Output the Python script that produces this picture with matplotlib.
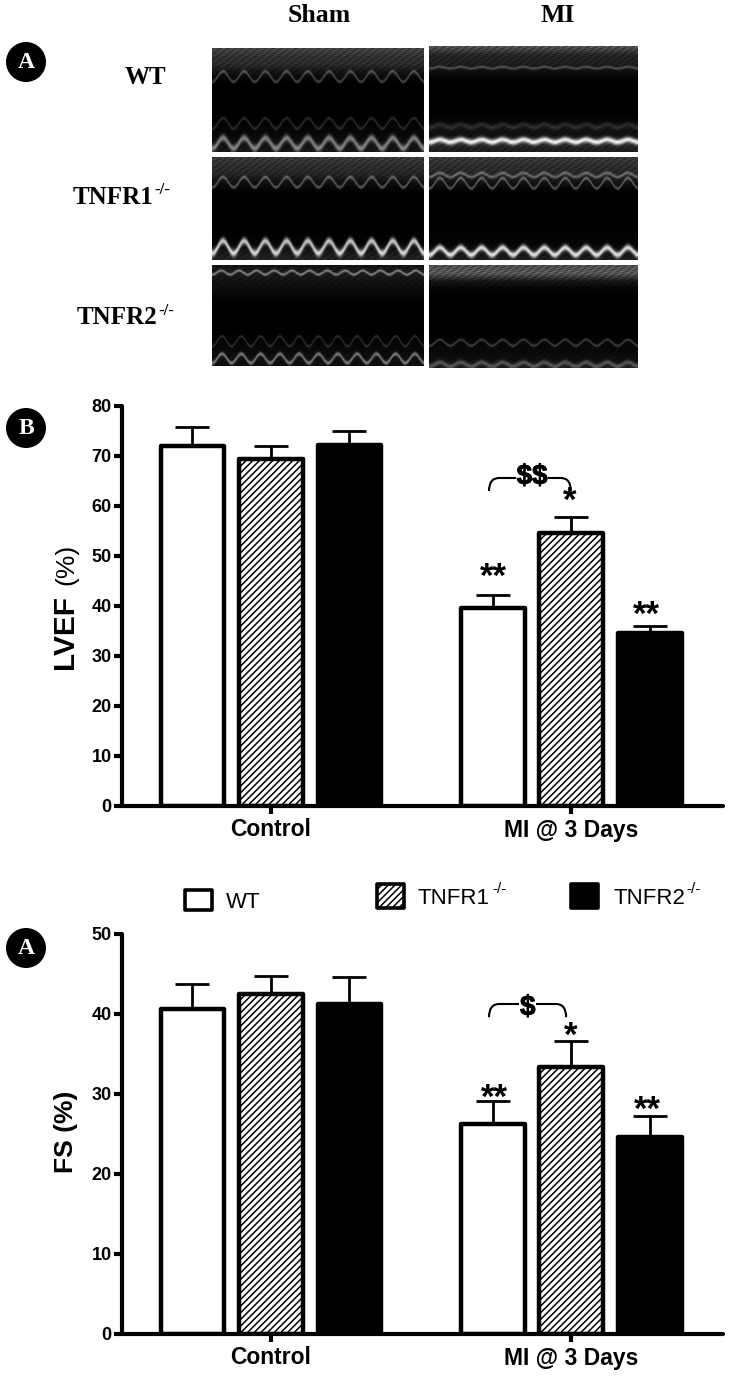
import numpy as np
import matplotlib
matplotlib.use('Agg')
import matplotlib.pyplot as plt
import matplotlib.patheffects as pe
from matplotlib.patches import Ellipse, PathPatch
from matplotlib.path import Path

W, H = 730, 1376

groups = ['Control', 'MI @ 3 Days']
strains = ['WT', 'TNFR1', 'TNFR2']

lvef = [72.0, 69.5, 72.3, 39.7, 54.6, 34.6]
lvef_err = [3.8, 2.5, 2.7, 2.45, 3.3, 1.5]
fs = [40.6, 42.5, 41.2, 26.25, 33.4, 24.65]
fs_err = [3.1, 2.3, 3.4, 2.85, 3.25, 2.6]

# bar slots, 1 = one bar pitch
bar_x = [0, 1, 2, 3.83, 4.82, 5.83]
group_x = [1, 4.82]

# echo strips: brightness from top to bottom, then wall traces (cycles, centre, amplitude, grey, blur)
echo_profile = {
    ('WT', 'Sham'): [.34, .26, .22, .1, .02, 0, 0, 0, 0, .01, .03, .05, .08, .12],
    ('WT', 'MI'): [.42, .2, .16, .08, .01, 0, 0, 0, 0, .02, .08, .08, .2, .15],
    ('TNFR1', 'Sham'): [.3, .24, .2, .1, .03, 0, 0, 0, 0, 0, .01, .03, .12, .18],
    ('TNFR1', 'MI'): [.3, .24, .2, .12, .03, 0, 0, 0, 0, .01, .02, .03, .08, .15],
    ('TNFR2', 'Sham'): [.1, .14, .1, .07, .03, 0, 0, 0, 0, .01, .03, .05, .08, .08],
    ('TNFR2', 'MI'): [.4, .45, .12, .03, 0, 0, 0, 0, 0, .01, .04, .05, .08, .14],
}
echo_traces = {
    ('WT', 'Sham'): [(10, .27, .05, .25, 1.2), (10, .72, .05, .15, 1.2), (10, .91, .05, .45, 2.4)],
    ('WT', 'MI'): [(10, .20, .008, .22, 1.0), (10, .75, .015, .12, 1.8), (10, .89, .012, .8, 2.0)],
    ('TNFR1', 'Sham'): [(10, .24, .05, .3, 1.2), (10, .87, .06, .75, 2.4)],
    ('TNFR1', 'MI'): [(10, .17, .02, .28, 1.2), (10, .25, .05, .3, 1.1), (10, .91, .035, .8, 2.2)],
    ('TNFR2', 'Sham'): [(12, .07, .02, .4, 1.0), (11, .75, .05, .16, 1.0), (11, .92, .045, .42, 1.4)],
    ('TNFR2', 'MI'): [(10, .75, .03, .2, 1.0), (10, .96, .02, .25, 1.7)],
}
echo_box = {
    ('WT', 'Sham'): (212, 423, 48, 152), ('WT', 'MI'): (429, 638, 46, 152),
    ('TNFR1', 'Sham'): (212, 423, 157, 260), ('TNFR1', 'MI'): (429, 638, 157, 260),
    ('TNFR2', 'Sham'): (212, 423, 265, 366), ('TNFR2', 'MI'): (429, 638, 265, 368),
}

plt.rcParams['font.family'] = ['Liberation Sans', 'DejaVu Sans']
plt.rcParams['hatch.linewidth'] = 1.1

fig = plt.figure(figsize=(W / 100, H / 100), dpi=100)


def px_axes(x0, x1, y0, y1):
    return fig.add_axes([x0 / W, 1 - y1 / H, (x1 - x0) / W, (y1 - y0) / H])


def draw_echo(key):
    x0, x1, y0, y1 = echo_box[key]
    ax = px_axes(x0, x1, y0, y1)
    w, h = x1 - x0, y1 - y0
    xx, yy = np.meshgrid(np.arange(w), np.arange(h))
    prof = np.array(echo_profile[key])
    img = np.interp(yy / (h - 1), np.linspace(0, 1, len(prof)), prof)
    # streaky look of the scan, only a stand-in for the photo
    img = img * (0.75 + 0.25 * np.sin(xx * 0.7 + yy * 1.9) * np.sin(xx * 0.13 - yy * 0.8))
    for cycles, centre, amp, grey, blur in echo_traces[key]:
        line = h * (centre + amp * np.cos(2 * np.pi * cycles * xx / w))
        img = img + grey * np.exp(-(yy - line) ** 2 / (2 * blur ** 2))
    ax.imshow(np.clip(img, 0, 1), cmap='gray', vmin=0, vmax=1, aspect='auto')
    ax.axis('off')


def draw_bars(ax, vals, errs, ymax, step):
    for i, (x, v, e) in enumerate(zip(bar_x, vals, errs)):
        kind = i % 3
        face = ['white', 'white', 'black'][kind]
        ax.bar(x, v, width=0.81, facecolor=face, edgecolor='black', linewidth=3.2,
               hatch='/////' if kind == 1 else None, joinstyle='round', zorder=2)
        ax.errorbar(x, v, yerr=[[0], [e]], color='black', elinewidth=2.0, capsize=12,
                    capthick=2.0, zorder=1)
    ax.set_xlim(-0.898, 6.758)
    ax.set_ylim(0, ymax)
    ax.set_yticks(np.arange(0, ymax + 1, step))
    ax.set_xticks(group_x)
    ax.set_xticklabels(groups, fontsize=16.5, fontweight='bold')
    ax.tick_params(axis='y', width=3, length=5.5, labelsize=13, pad=2)
    ax.tick_params(axis='x', width=3, length=5.5, pad=3.5)
    for lab in ax.get_yticklabels():
        lab.set_fontweight('bold')
    for s in ['top', 'right']:
        ax.spines[s].set_visible(False)
    for s in ['left', 'bottom']:
        ax.spines[s].set_linewidth(3)
        ax.spines[s].set_capstyle('round')
    ax.patch.set_alpha(0)


def bracket(ax, x0, x1, y0, y1, dx):
    verts = [(x0, y0), (x0, y1), (x0 + dx, y1), (x1 - dx, y1), (x1, y1), (x1, y0)]
    codes = [Path.MOVETO, Path.CURVE3, Path.CURVE3, Path.LINETO, Path.CURVE3, Path.CURVE3]
    ax.add_patch(PathPatch(Path(verts, codes), fc='none', ec='black', lw=1.5, zorder=3))


for key in echo_box:
    draw_echo(key)

ax1 = px_axes(122, 723, 406, 806)
draw_bars(ax1, lvef, lvef_err, 80, 10)
ax2 = px_axes(122, 723, 934, 1334)
draw_bars(ax2, fs, fs_err, 50, 10)

# stars and brackets, placed on the data scales
star = dict(ha='center', va='center', fontsize=25, fontweight='bold', zorder=4)
ax1.text(3.83, 45.65, '**', **star)
ax1.text(4.81, 60.85, '*', **star)
ax1.text(5.78, 38.05, '**', **star)
ax2.text(3.85, 29.4, '**', **star)
ax2.text(4.82, 37.25, '*', **star)
ax2.text(5.79, 28.0, '**', **star)
bracket(ax1, 3.777, 4.82, 63.0, 65.6, 0.13)
bracket(ax2, 3.777, 4.76, 39.6, 41.25, 0.13)
thick = [pe.withStroke(linewidth=0.7, foreground='black')]
ax1.text(4.325, 65.8, r'\$\$', ha='center', va='center', fontsize=20, fontweight='bold',
         bbox=dict(fc='white', ec='none', pad=0.5), zorder=4, path_effects=thick)
ax2.text(4.27, 40.75, r'\$', ha='center', va='center', fontsize=20, fontweight='bold',
         bbox=dict(fc='white', ec='none', pad=0.5), zorder=4, path_effects=thick)

# page overlay in pixels: headings, panel letters, legend
page = fig.add_axes([0, 0, 1, 1], zorder=10)
page.axis('off')
page.patch.set_alpha(0)

serif = dict(family='Liberation Serif', fontweight='bold', va='center')
page.text(319, 16, 'Sham', fontsize=18.5, ha='center', **serif)
page.text(558, 16, 'MI', fontsize=18.5, ha='center', **serif)
page.text(145, 78, 'WT', fontsize=18, ha='center', **serif)
page.text(73, 197, 'TNFR1', fontsize=18, ha='left', **serif)
page.text(154, 190, '-/-', fontsize=12, ha='left', **serif)
page.text(77, 318, 'TNFR2', fontsize=18, ha='left', **serif)
page.text(158, 311, '-/-', fontsize=12, ha='left', **serif)

for cy, letter in [(62, 'A'), (428, 'B'), (948, 'A')]:
    page.add_patch(Ellipse((26, cy), 40, 40, fc='black', ec='none'))
    page.text(26, cy + 1, letter, color='white', family='Liberation Serif', fontweight='bold',
              fontsize=17, ha='center', va='center')

page.text(65, 632, 'LVEF', rotation=90, fontsize=21.5, ha='center', va='center', fontweight='bold')
page.text(66, 564, '(%)', rotation=90, fontsize=19, ha='center', va='center')
page.text(66, 1132, 'FS (%)', rotation=90, fontsize=19, ha='center', va='center', fontweight='bold')

legend_y = [900, 896, 896]
legend_x = [198.5, 390.5, 584.5]
legend_tx = [226, 418, 613]
legend_h = [20, 24, 24]
legend_face = ['white', 'white', 'black']
for i in range(3):
    page.bar(legend_x[i], legend_h[i], width=27, bottom=legend_y[i] - legend_h[i] / 2,
             facecolor=legend_face[i], edgecolor='black', linewidth=2.6,
             hatch='/////' if i == 1 else None, joinstyle='round')
    page.text(legend_tx[i], legend_y[i] + 2, strains[i], fontsize=16, ha='left', va='center')
page.text(492, 889, '-/-', fontsize=11, ha='left', va='center')
page.text(686, 889, '-/-', fontsize=11, ha='left', va='center')
page.set_xlim(0, W)
page.set_ylim(H, 0)

fig.savefig('out.png', dpi=100)
